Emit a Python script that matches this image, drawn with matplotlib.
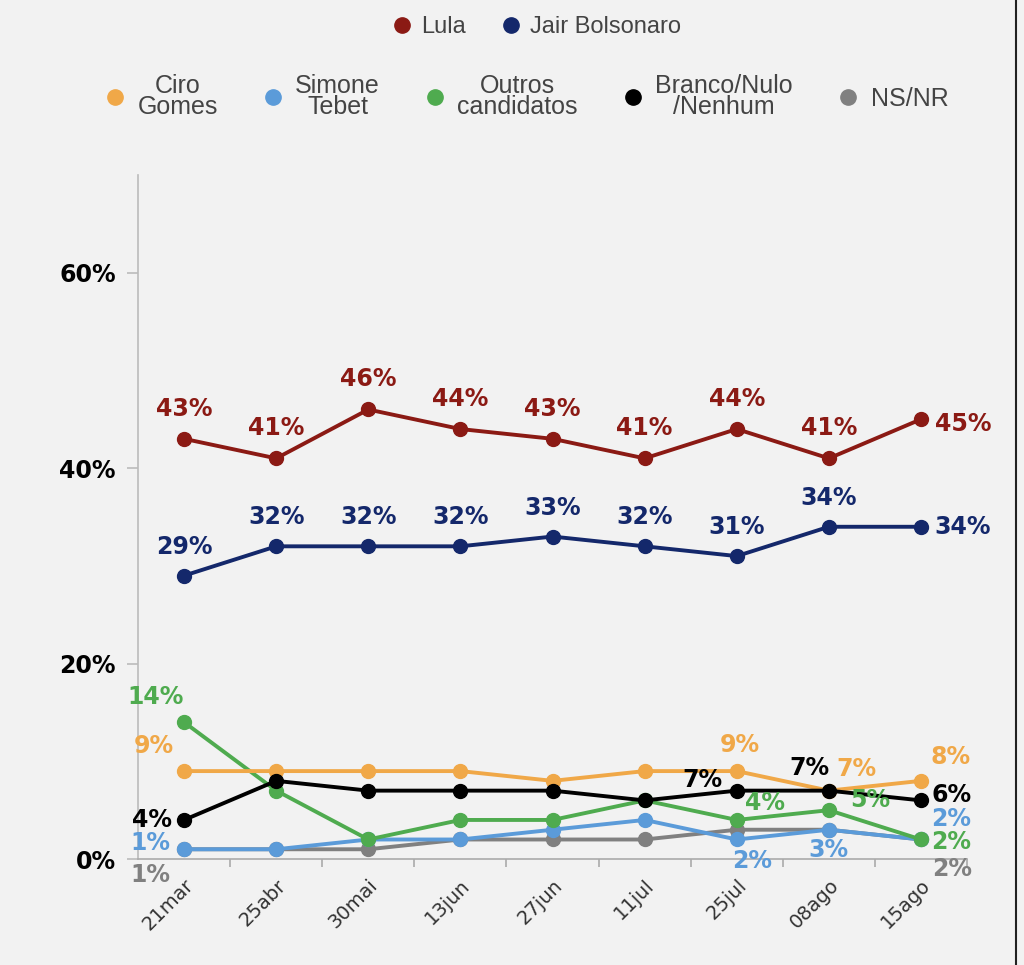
import matplotlib.pyplot as plt
from matplotlib.lines import Line2D

# dados
datas = ['21mar', '25abr', '30mai', '13jun', '27jun', '11jul', '25jul', '08ago', '15ago']
lula = [43, 41, 46, 44, 43, 41, 44, 41, 45]
bolsonaro = [29, 32, 32, 32, 33, 32, 31, 34, 34]
ciro = [9, 9, 9, 9, 8, 9, 9, 7, 8]
simone = [1, 1, 2, 2, 3, 4, 2, 3, 2]
outros = [14, 7, 2, 4, 4, 6, 4, 5, 2]
branco = [4, 8, 7, 7, 7, 6, 7, 7, 6]
nsnr = [1, 1, 1, 2, 2, 2, 3, 3, 2]

c_lula = '#8b1a14'
c_bolso = '#14286b'
c_ciro = '#f0a848'
c_simone = '#5b9bd9'
c_outros = '#4fab4f'
c_branco = '#000000'
c_nsnr = '#808080'

bg = '#f2f2f2'
fig = plt.figure(figsize=(10.24, 9.65), dpi=100, facecolor=bg)
ax = fig.add_axes([0.1348, 0.1098, 0.8096, 0.7089], facecolor=bg)

x = list(range(len(datas)))
lw, ms = 2.8, 10

# linhas de baixo
ax.plot(x, nsnr, color=c_nsnr, lw=lw, marker='o', ms=ms, zorder=2)
ax.plot(x, simone, color=c_simone, lw=lw, marker='o', ms=ms, zorder=3)
ax.plot(x, outros, color=c_outros, lw=lw, marker='o', ms=ms, zorder=3)
ax.plot(x, branco, color=c_branco, lw=lw, marker='o', ms=ms, zorder=4)
ax.plot(x, ciro, color=c_ciro, lw=lw, marker='o', ms=ms, zorder=3)
ax.plot(x, bolsonaro, color=c_bolso, lw=lw, marker='o', ms=ms, zorder=5)
ax.plot(x, lula, color=c_lula, lw=lw, marker='o', ms=ms, zorder=5)


def rotulo(serie, i, dx, dy, cor):
    ax.annotate(f'{serie[i]}%', (i, serie[i]), xytext=(dx, dy), textcoords='offset pixels',
                ha='center', va='center', color=cor, fontsize=17, fontweight='bold', zorder=6)


# Lula e Bolsonaro: rótulos acima, o último à direita
for i in range(len(datas) - 1):
    rotulo(lula, i, 0, 30, c_lula)
    rotulo(bolsonaro, i, 0, 29, c_bolso)
rotulo(lula, 8, 42, -5, c_lula)
rotulo(bolsonaro, 8, 42, 0, c_bolso)

# Ciro
rotulo(ciro, 0, -30, 25, c_ciro)
rotulo(ciro, 6, 3, 26, c_ciro)
rotulo(ciro, 7, 28, 22, c_ciro)
rotulo(ciro, 8, 30, 24, c_ciro)
# Outros
rotulo(outros, 0, -29, 25, c_outros)
rotulo(outros, 6, 28, 17, c_outros)
rotulo(outros, 7, 41, 10, c_outros)
rotulo(outros, 8, 30, -3, c_outros)
# Branco/Nulo
rotulo(branco, 0, -32, 0, c_branco)
rotulo(branco, 6, -34, 11, c_branco)
rotulo(branco, 7, -19, 23, c_branco)
rotulo(branco, 8, 31, 5, c_branco)
# Simone
rotulo(simone, 0, -34, 6, c_simone)
rotulo(simone, 6, 15, -22, c_simone)
rotulo(simone, 7, 0, -20, c_simone)
rotulo(simone, 8, 30, 20, c_simone)
# NS/NR
rotulo(nsnr, 0, -34, -26, c_nsnr)
rotulo(nsnr, 8, 31, -30, c_nsnr)

# eixos
ax.set_xlim(-0.5, 8.5)
ax.set_ylim(0, 70)
ax.set_yticks([0, 20, 40, 60])
ax.set_yticklabels(['0%', '20%', '40%', '60%'], fontsize=17, fontweight='bold')
ax.set_xticks(x)
ax.set_xticklabels(datas, rotation=45, ha='right', rotation_mode='anchor', fontsize=14, color='#333333')
ax.set_xticks([i + 0.5 for i in range(len(datas))], minor=True)
ax.tick_params(axis='x', which='major', length=0, pad=12)
ax.tick_params(axis='x', which='minor', length=6, color='#aaaaaa', width=1.2)
ax.tick_params(axis='y', length=8, color='#bbbbbb', width=1.2, pad=8)
for lado in ['top', 'right']:
    ax.spines[lado].set_visible(False)
ax.spines['left'].set_color('#bbbbbb')
ax.spines['bottom'].set_color('#aaaaaa')
ax.spines['left'].set_linewidth(1.2)
ax.spines['bottom'].set_linewidth(1.2)


# legendas
def marca(cor):
    return Line2D([], [], ls='', marker='o', ms=11, color=cor)


leg1 = fig.legend([marca(c_lula), marca(c_bolso)], ['Lula', 'Jair Bolsonaro'],
                  loc='center', bbox_to_anchor=(0.523, 0.972), ncol=2, frameon=False,
                  prop={'family': 'Liberation Sans', 'size': 17}, handletextpad=0.3,
                  columnspacing=1.4, handlelength=1.0, labelcolor='#444444')

leg2 = fig.legend([marca(c_ciro), marca(c_simone), marca(c_outros), marca(c_branco), marca(c_nsnr)],
                  ['Ciro\nGomes', 'Simone\nTebet', 'Outros\ncandidatos', 'Branco/Nulo\n/Nenhum', 'NS/NR'],
                  loc='center', bbox_to_anchor=(0.513, 0.9), ncol=5, frameon=False,
                  prop={'family': 'Liberation Sans', 'size': 18}, handletextpad=0.4,
                  columnspacing=1.7, handlelength=1.0, labelcolor='#444444',
                  labelspacing=0.2)
for t in leg2.get_texts():
    t.set_multialignment('center')
    t.set_linespacing(0.85)

# borda à direita
fig.add_artist(Line2D([0.992, 0.992], [0, 1], transform=fig.transFigure, color='#222222', lw=1.5))

fig.savefig('out.png', dpi=100, facecolor=bg)
